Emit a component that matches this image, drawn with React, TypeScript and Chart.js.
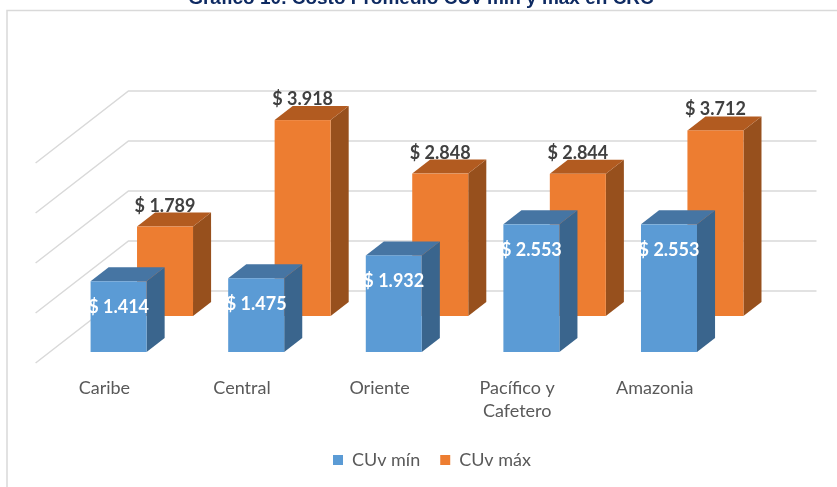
import React, { useEffect, useRef } from 'react';
import { Chart, registerables } from 'chart.js';

Chart.register(...registerables);

// ---- data ----
const categories: (string | string[])[] = ['Caribe', 'Central', 'Oriente', ['Pacífico y', 'Cafetero'], 'Amazonia'];
const seriesNames = ['CUv mín', 'CUv máx'];
const cuvMin = [1414, 1475, 1932, 2553, 2553];
const cuvMax = [1789, 3918, 2848, 2844, 3712];
const yTicks = [0, 1000, 2000, 3000, 4000];
const titleText = 'Gráfico 10. Costo Promedio CUv mín y máx en CRC';

// ---- style ----
const FACES = [
  { front: '#5B9BD5', top: '#4675A3', side: '#3A658D', label: '#FFFFFF' },
  { front: '#ED7D31', top: '#B25B20', side: '#97501D', label: '#404040' },
];
const GRID = '#D9D9D9';
const TEXT = '#595959';
const SLOPE = 1.29; // horizontal shift per px of depth rise
const ROW_DY = [11, 47]; // depth rise of the front face of each series row
const WALL_DY = 72;
const BAR_DEPTH = 14;
const FONT = 'Lato';

const fmt = (v: number) => '$ ' + Math.floor(v / 1000) + '.' + String(v % 1000).padStart(3, '0');

function poly(ctx: CanvasRenderingContext2D, color: string, pts: number[][]) {
  ctx.beginPath();
  ctx.moveTo(pts[0][0], pts[0][1]);
  for (let i = 1; i < pts.length; i++) ctx.lineTo(pts[i][0], pts[i][1]);
  ctx.closePath();
  ctx.fillStyle = color;
  ctx.fill();
}

function barBoxes(chart: any, di: number) {
  const meta = chart.getDatasetMeta(di);
  const dy = ROW_DY[di];
  const dx = dy * SLOPE;
  return meta.data.map((el: any, i: number) => {
    const p = el.getProps(['x', 'y', 'base', 'width'], true);
    return {
      x0: p.x - p.width / 2 + dx,
      x1: p.x + p.width / 2 + dx,
      top: p.y - dy,
      bot: p.base - dy,
      value: chart.data.datasets[di].data[i] as number,
    };
  });
}

const bars3d = {
  id: 'bars3d',
  beforeDatasetsDraw(chart: any) {
    const { ctx, chartArea } = chart;
    const y = chart.scales.y;
    ctx.save();
    ctx.strokeStyle = GRID;
    ctx.lineWidth = 1.5;
    const wx = WALL_DY * SLOPE;
    yTicks.forEach((t) => {
      const py = y.getPixelForValue(t);
      ctx.beginPath();
      ctx.moveTo(chartArea.left, py);
      ctx.lineTo(chartArea.left + wx, py - WALL_DY);
      ctx.lineTo(chartArea.right + wx, py - WALL_DY);
      ctx.stroke();
    });
    const ddy = BAR_DEPTH;
    const ddx = BAR_DEPTH * SLOPE;
    [1, 0].forEach((di) => {
      const c = FACES[di];
      barBoxes(chart, di).forEach((b: any) => {
        poly(ctx, c.side, [[b.x1, b.top], [b.x1 + ddx, b.top - ddy], [b.x1 + ddx, b.bot - ddy], [b.x1, b.bot]]);
        poly(ctx, c.top, [[b.x0, b.top], [b.x1, b.top], [b.x1 + ddx, b.top - ddy], [b.x0 + ddx, b.top - ddy]]);
        ctx.fillStyle = c.front;
        ctx.fillRect(b.x0, b.top, b.x1 - b.x0, b.bot - b.top);
      });
    });
    ctx.restore();
    return false;
  },
  afterDraw(chart: any) {
    const { ctx } = chart;
    ctx.save();
    ctx.font = `bold 18px ${FONT}`;
    ctx.textAlign = 'center';
    // orange labels above the bars
    ctx.fillStyle = FACES[1].label;
    ctx.textBaseline = 'alphabetic';
    barBoxes(chart, 1).forEach((b: any) => {
      ctx.fillText(fmt(b.value), (b.x0 + b.x1) / 2, b.top - BAR_DEPTH - 1);
    });
    // blue labels inside the bars
    ctx.fillStyle = FACES[0].label;
    ctx.textBaseline = 'middle';
    barBoxes(chart, 0).forEach((b: any) => {
      ctx.fillText(fmt(b.value), (b.x0 + b.x1) / 2, b.top + 26);
    });
    // title (partly above the picture)
    ctx.font = 'bold 19px "Liberation Sans"';
    ctx.fillStyle = '#0E2A62';
    ctx.textBaseline = 'alphabetic';
    ctx.fillText(titleText, 421, 4);
    // frame
    ctx.strokeStyle = GRID;
    ctx.lineWidth = 1.5;
    ctx.beginPath();
    ctx.moveTo(7, 500);
    ctx.lineTo(7, 10.5);
    ctx.lineTo(840, 10.5);
    ctx.stroke();
    ctx.restore();
  },
};

export default function App() {
  const ref = useRef<HTMLCanvasElement>(null);
  useEffect(() => {
    const chart = new Chart(ref.current as HTMLCanvasElement, {
      type: 'bar',
      data: {
        labels: categories as any,
        datasets: [
          { label: seriesNames[0], data: cuvMin, backgroundColor: FACES[0].front, borderWidth: 0 },
          { label: seriesNames[1], data: cuvMax, backgroundColor: FACES[1].front, borderWidth: 0 },
        ],
      },
      options: {
        animation: false,
        responsive: false,
        datasets: { bar: { grouped: false, barPercentage: 56 / 137.6, categoryPercentage: 1 } } as any,
        layout: { padding: { top: 163, left: 27, right: 0, bottom: 8 } },
        plugins: {
          legend: {
            position: 'bottom',
            labels: { boxWidth: 10, boxHeight: 10, padding: 20, color: TEXT, font: { family: FONT, size: 18 } },
          },
          tooltip: { enabled: false },
          title: { display: false },
        },
        scales: {
          x: {
            grid: { display: false, drawTicks: false },
            border: { display: false },
            ticks: { color: TEXT, font: { family: FONT, size: 18, lineHeight: 1.3 }, padding: 13, maxRotation: 0, autoSkip: false },
            afterFit: (s: any) => { s.height = 68; },
          },
          y: {
            min: 0,
            max: 4000,
            grid: { display: false, drawTicks: false },
            border: { display: false },
            ticks: { display: false },
            afterFit: (s: any) => { s.width = 8.6; },
          },
          y2: {
            type: 'linear',
            position: 'right',
            min: 0,
            max: 1,
            grid: { display: false, drawTicks: false },
            border: { display: false },
            ticks: { display: false },
            afterFit: (s: any) => { s.width = 113.4; },
          },
        },
      } as any,
      plugins: [bars3d],
    });
    return () => chart.destroy();
  }, []);
  return (
    <div style={{ position: 'fixed', left: 0, top: 0, width: 837, height: 487, background: '#fff' }}>
      <canvas ref={ref} width={837} height={487} style={{ display: 'block' }} />
    </div>
  );
}
